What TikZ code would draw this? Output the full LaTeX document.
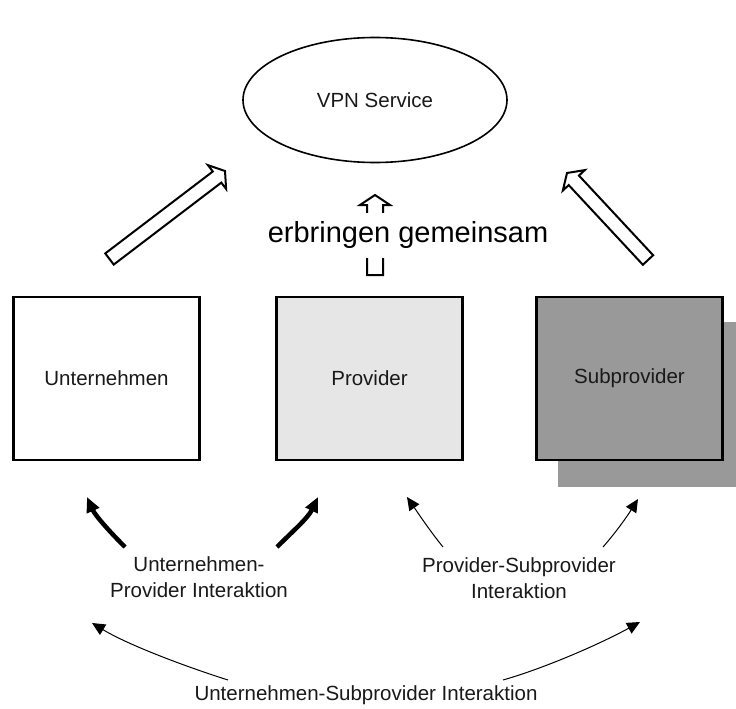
\documentclass[tikz,border=0pt]{standalone}
\usepackage{fontspec}
\setmainfont{Liberation Sans}
\usetikzlibrary{calc,arrows.meta,shapes.geometric}
\definecolor{provgray}{HTML}{E6E6E6}
\definecolor{subgray}{HTML}{999999}
\newcommand\blkarrow[4]{%
  \coordinate (bh) at ($(#2)!10pt!(#1)$);
  \draw[blockar] ($(#1)!#3!90:(#2)$) -- ($(bh)!#3!90:(#2)$) -- ($(bh)!#4!90:(#2)$) -- (#2)
    -- ($(bh)!#4!-90:(#2)$) -- ($(bh)!#3!-90:(#2)$) -- ($(#1)!#3!-90:(#2)$) -- cycle;}
\begin{document}
\begin{tikzpicture}[x=1pt,y=-1pt,
  lbl/.style={font=\fontsize{20.5}{26}\selectfont, text=black!90, align=center, inner sep=1pt},
  boxst/.style={draw=black, line width=2.5pt, minimum width=186pt, minimum height=163pt, inner sep=0pt,
                font=\fontsize{20.5}{26}\selectfont, text=black!90},
  blockar/.style={draw=black, line width=2pt, fill=white, line join=miter},
  thickar/.style={line width=4.5pt, -{Triangle[length=15pt,width=13pt]}},
  thinar/.style={line width=1pt, -{Triangle[length=13pt,width=12pt]}}]
\useasboundingbox (0,0) rectangle (736,709);

% VPN service ellipse
\node[ellipse, draw=black, line width=1.6pt, minimum width=264pt, minimum height=125pt, inner sep=0pt,
      font=\fontsize{20.5}{26}\selectfont, text=black!90] (vpn) at (375,100) {VPN Service};

% shadow of Subprovider
\fill[subgray] (558,322) rectangle (736,487);

% boxes
\node[boxst, fill=white] (unt) at (106.5,378.5) {Unternehmen};
\node[boxst, fill=provgray] (prov) at (369.5,378.5) {Provider};
\node[boxst, fill=subgray] (sub) at (629.5,378.5) {Subprovider};

% block arrows
\coordinate (la1) at (109.5,259);
\coordinate (la2) at (225,171);
\blkarrow{la1}{la2}{7pt}{15pt}
\coordinate (ra1) at (648,260);
\coordinate (ra2) at (567,173);
\blkarrow{ra1}{ra2}{7pt}{15pt}
\coordinate (ma1) at (375,275);
\coordinate (ma2) at (375,195);
\blkarrow{ma1}{ma2}{8pt}{15pt}
\node[fill=white, inner xsep=2pt, minimum height=45pt, font=\fontsize{29}{33}\selectfont] (erb) at (408,235) {erbringen gemeinsam};

% interaction labels
\node[lbl] (up) at (199,577) {Unternehmen-\\Provider Interaktion};
\node[lbl] (ps) at (519,578) {Provider-Subprovider\\Interaktion};
\node[lbl] (us) at (366,695) {Unternehmen-Subprovider Interaktion};

% thick arrows
\coordinate (t1s) at (125,547); \coordinate (t1e) at (87,497);
\coordinate (t2s) at (277,547); \coordinate (t2e) at (318,497);
\draw[thickar] (t1s) .. controls (108,530) and (95,515) .. (t1e);
\draw[thickar] (t2s) .. controls (294,530) and (308,518) .. (t2e);

% thin arrows
\coordinate (p1s) at (443,547); \coordinate (p1e) at (407,497);
\coordinate (p2s) at (603,547); \coordinate (p2e) at (638,499);
\draw[thinar] (p1s) .. controls (430,531) and (418,513) .. (p1e);
\draw[thinar] (p2s) .. controls (617,531) and (628,515) .. (p2e);

\coordinate (b1s) at (228,680); \coordinate (b1e) at (92,623);
\coordinate (b2s) at (503,680); \coordinate (b2e) at (640,622);
\draw[thinar] (b1s) .. controls (190,668) and (130,646) .. (b1e);
\draw[thinar] (b2s) .. controls (545,668) and (600,644) .. (b2e);
\end{tikzpicture}
\end{document}
